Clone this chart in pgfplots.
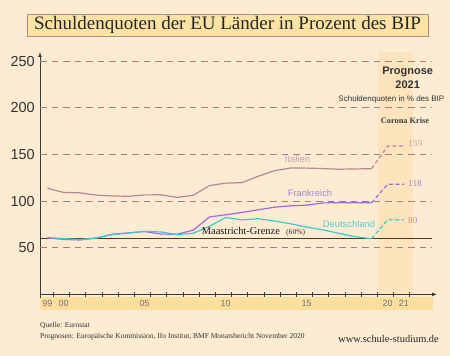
\documentclass[border=0pt]{standalone}
\usepackage{fontspec}
\setmainfont{Liberation Serif}
\newfontfamily\sans{Liberation Sans}
\usepackage{pgfplots}
\pgfplotsset{compat=1.18}
\usepackage{pgfplotstable}
\usetikzlibrary{arrows.meta}

\definecolor{bg}{HTML}{FDEBD2}
\definecolor{band}{HTML}{FDE4BD}
\definecolor{lblband}{HTML}{FDDF9C}
\definecolor{titlefill}{HTML}{FDE3A3}
\definecolor{titlebd}{HTML}{9E9484}
\definecolor{gridc}{HTML}{A57C86}
\definecolor{itcol}{HTML}{B38A94}
\definecolor{itlab}{HTML}{C6A2AA}
\definecolor{frcol}{HTML}{9D6BE0}
\definecolor{frlab}{HTML}{A684E0}
\definecolor{decol}{HTML}{3CC9CC}
\definecolor{delab}{HTML}{55CFD3}
\definecolor{maas}{HTML}{4B3A22}
\definecolor{axiscol}{HTML}{3A3A3A}

\pgfplotstableread{
year it fr de
1999 113.7 60.5 61.1
2000 109.2 58.9 59.7
2001 108.8 58.3 58.9
2002 106.4 60.3 60.4
2003 105.5 64.4 64.1
2004 105.1 65.9 65.7
2005 106.6 67.4 67.5
2006 106.7 64.6 66.9
2007 103.9 64.5 64.0
2008 106.2 68.8 65.5
2009 116.6 83.0 73.0
2010 119.2 85.3 82.4
2011 119.7 87.8 79.8
2012 126.5 90.6 81.1
2013 132.5 93.4 78.7
2014 135.4 94.9 75.7
2015 135.3 95.6 72.1
2016 134.8 98.0 69.2
2017 134.1 98.3 65.3
2018 134.4 98.1 61.9
2019 134.7 98.1 59.6
}\hist

\pgfplotstableread{
year it fr de
2019 134.7 98.1 59.6
2020 159 118 80
2021 159 118 80
}\prog

\begin{document}
\begin{tikzpicture}[x=1pt,y=1pt]
\useasboundingbox (0,0) rectangle (450,356);
\fill[bg] (0,0) rectangle (450,356);
\fill[lblband] (40,46) rectangle (433,59);
\draw[titlebd, fill=titlefill, line width=0.6pt] (27,320) rectangle (428,342);
\node[font=\fontsize{19}{20}\selectfont, text=black!85, inner sep=0pt] at (227.5,331) {Schuldenquoten der EU Länder in Prozent des BIP};

\begin{axis}[
  at={(40pt,61.6pt)}, anchor=south west,
  scale only axis, width=397pt, height=242.4pt,
  xmin=1998.54, xmax=2023.04, ymin=0, ymax=259.7,
  axis lines=left,
  x axis line style={-{Latex[length=5pt,width=4pt]}, draw=axiscol, line width=0.9pt},
  y axis line style={-{Latex[length=5pt,width=4pt]}, draw=axiscol, line width=0.9pt},
  ytick={50,100,150,200,250},
  yticklabels={50,100,150,200,250},
  yticklabel style={font=\sans\fontsize{14.5}{15}\selectfont, text=black!80, anchor=east, inner sep=0pt, xshift=-5pt},
  xtick={1999,2000,2005,2010,2015,2020,2021},
  xticklabels={99,00,05,10,15,20,21},
  xticklabel style={font=\sans\fontsize{9}{10}\selectfont, text=black!55, anchor=north, inner sep=0pt, yshift=-6pt},
  major tick length=0pt,
  tick style={draw=none},
  /pgf/number format/assume math mode=true,
  clip=false,
]
\fill[band] (axis cs:2019.4,0.6) rectangle (axis cs:2021.54,259.7);
\draw[gridc, line width=0.8pt, dash pattern=on 6.5pt off 5pt] (axis cs:1998.54,50) -- (axis cs:2022.73,50);
\draw[gridc, line width=0.8pt, dash pattern=on 6.5pt off 5pt] (axis cs:1998.54,100) -- (axis cs:2022.73,100);
\draw[gridc, line width=0.8pt, dash pattern=on 6.5pt off 5pt] (axis cs:1998.54,150) -- (axis cs:2022.73,150);
\draw[gridc, line width=0.8pt, dash pattern=on 6.5pt off 5pt] (axis cs:1998.54,200) -- (axis cs:2022.73,200);
\draw[gridc, line width=0.8pt, dash pattern=on 6.5pt off 5pt] (axis cs:1998.54,250) -- (axis cs:2022.73,250);
\draw[maas, line width=1.1pt] (axis cs:1998.54,60) -- (axis cs:2022.73,60);

\addplot[itcol, line width=1.2pt, mark=none] table[x=year,y=it]{\hist};
\addplot[frcol, line width=1.2pt, mark=none] table[x=year,y=fr]{\hist};
\addplot[decol, line width=1.2pt, mark=none] table[x=year,y=de]{\hist};
\addplot[itcol, line width=1.2pt, mark=none, dash pattern=on 4pt off 2.5pt] table[x=year,y=it]{\prog};
\addplot[frcol, line width=1.2pt, mark=none, dash pattern=on 4pt off 2.5pt] table[x=year,y=fr]{\prog};
\addplot[decol, line width=1.2pt, mark=none, dash pattern=on 4pt off 2.5pt] table[x=year,y=de]{\prog};
\end{axis}

% x-axis tick marks (between the year labels) and y-axis stub below the x axis
\foreach \i in {0,...,22} {
  \draw[axiscol, line width=0.8pt] ({53.3+16.204*\i},59.2) -- ++(0,4.8);
}
\draw[axiscol, line width=0.9pt] (40,61.6) -- (40,58.4);

% annotations
\node[font=\sans\bfseries\fontsize{11}{12}\selectfont, text=black!80] at (407.7,284.3) {Prognose};
\node[font=\sans\bfseries\fontsize{11}{12}\selectfont, text=black!80] at (407.7,271.7) {2021};
\node[font=\sans\fontsize{8}{9}\selectfont, text=black!80] at (391.4,257) {Schuldenquoten in \% des BIP};
\node[font=\bfseries\fontsize{8.3}{9}\selectfont, text=black!75] at (405,235.3) {Corona Krise};
\node[font=\sans\fontsize{9.4}{10}\selectfont, text=itlab] at (297.5,196.7) {Italien};
\node[font=\sans\fontsize{9.4}{10}\selectfont, text=frlab] at (310,162.7) {Frankreich};
\node[font=\sans\fontsize{9.4}{10}\selectfont, text=delab] at (349,132) {Deutschland};
\node[font=\fontsize{10.4}{11}\selectfont, text=black!90, anchor=base west, inner sep=0pt] at (201.7,121.7) {Maastricht-Grenze};
\node[font=\fontsize{7.6}{8}\selectfont, text=black!80, anchor=base west, inner sep=0pt] at (286,121.7) {(60\%)};
\node[font=\fontsize{9.3}{10}\selectfont, text=itlab, anchor=west, inner sep=0pt] at (408,212.7) {159};
\node[font=\fontsize{9.3}{10}\selectfont, text=frlab, anchor=west, inner sep=0pt] at (408,172.7) {118};
\node[font=\fontsize{9.3}{10}\selectfont, text=frlab!80!pink, anchor=west, inner sep=0pt] at (408,136) {80};
\node[font=\fontsize{7.5}{8}\selectfont, text=black!80, anchor=base west, inner sep=0pt] at (40,28.3) {Quelle: Eurostat};
\node[font=\fontsize{7.5}{8}\selectfont, text=black!80, anchor=base west, inner sep=0pt] at (40,17.7) {Prognosen: Europäische Kommission, Ifo Institut, BMF Monatsbericht November 2020};
\node[font=\fontsize{10.4}{11}\selectfont, text=black!85, anchor=base east, inner sep=0pt] at (439,13.7) {www.schule-studium.de};
\end{tikzpicture}
\end{document}
